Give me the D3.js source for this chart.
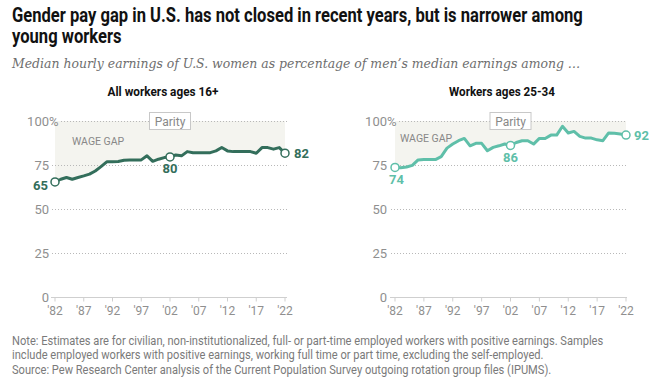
<!DOCTYPE html>
<html><head><meta charset="utf-8">
<script src="https://cdn.jsdelivr.net/npm/d3@7"></script>
<style>body{margin:0;background:#fff}</style>
</head><body><svg id="c" width="655" height="380"></svg>
<script>
// ---------- DATA ----------
const years = [1982,1983,1984,1985,1986,1987,1988,1989,1990,1991,
  1992,1993,1994,1995,1996,1997,1998,1999,2000,2001,
  2002,2003,2004,2005,2006,2007,2008,2009,2010,2011,
  2012,2013,2014,2015,2016,2017,2018,2019,2020,2021,2022];
const allWorkers = [65.4,66.9,67.9,66.9,67.9,68.8,69.8,71.6,74.1,76.8,
  76.8,77.0,77.7,77.9,77.9,77.9,80.2,77.1,78.3,79.2,
  79.6,80.7,80.2,82.6,82.0,82.0,82.0,82.0,83.0,84.9,
  83.0,82.6,82.6,82.6,82.6,81.7,84.9,84.9,84.0,84.9,81.7];
const youngWorkers = [73.6,73.5,73.9,74.8,77.9,78.1,78.1,78.1,79.8,84.6,
  86.9,88.8,90.1,85.9,87.3,87.3,83.1,85.0,85.9,86.9,
  86.1,87.8,88.8,88.8,86.9,90.1,90.1,92.0,92.0,97.0,
  93.2,94.1,91.3,90.3,90.3,89.3,88.8,93.2,93.0,92.6,92.0];
const panelTitles = ["All workers ages 16+", "Workers ages 25-34"];
const yTicks = [0, 25, 50, 75, 100];
const xTicks = [1982,1987,1992,1997,2002,2007,2012,2017,2022];
const xTickLabels = ["'82","'87","'92","'97","'02","'07","'12","'17","'22"];
const labelYears = [1982, 2002, 2022];
const title = ["Gender pay gap in U.S. has not closed in recent years, but is narrower among", "young workers"];
const subtitle = "Median hourly earnings of U.S. women as percentage of men\u2019s median earnings among \u2026";
const notes = [
  "Note: Estimates are for civilian, non-institutionalized, full- or part-time employed workers with positive earnings. Samples",
  "include employed workers with positive earnings, working full time or part time, excluding the self-employed.",
  "Source: Pew Research Center analysis of the Current Population Survey outgoing rotation group files (IPUMS)."
];

// ---------- LAYOUT ----------
const svg = d3.select("#c");
const SANS = "'Liberation Sans Narrow', 'Roboto', sans-serif";
const BODY = "Roboto, 'Liberation Sans', sans-serif";

function fitGroup(x, y, target, lines, lineH, attrs, anchor) {
  const g = svg.append("g");
  const ts = lines.map((t, i) => {
    const el = g.append("text").attr("x", 0).attr("y", y + i * lineH).text(t)
      .attr("text-anchor", anchor || "start");
    Object.entries(attrs).forEach(([k, v]) => el.attr(k, v));
    return el;
  });
  const w = ts[0].node().getComputedTextLength();
  const s = target / w;
  g.attr("transform", `translate(${x},0) scale(${s},1)`);
  return g;
}

fitGroup(12, 22, 571, title, 21,
  {"font-family": SANS, "font-weight": "bold", "font-size": "20px", fill: "#111"});
fitGroup(12, 68, 569, [subtitle], 0,
  {"font-family": "'DejaVu Serif', serif", "font-style": "italic", "font-size": "13.5px", fill: "#6e6e6e"});
fitGroup(12, 345, 592, notes, 14.5,
  {"font-family": SANS, "font-size": "12.5px", fill: "#7a7a7a"});

const panels = [
  {values: allWorkers, x0: 55, x1: 285, color: "#336e5b", title: panelTitles[0], tcx: 163, tw: 111,
   labelX: 49, gridX0: 52, gridX1: 287, axisX0: 51, gridX100: 61, wageX: 72, wageY: 145,
   lab: [{dx: -7, dy: 8, anchor: "end"}, {dx: 0, dy: 16, anchor: "middle"}, {dx: 9, dy: 4.5, anchor: "start"}]},
  {values: youngWorkers, x0: 395, x1: 626, color: "#5fbfa9", title: panelTitles[1], tcx: 502, tw: 106,
   labelX: 387, gridX0: 391, gridX1: 627, axisX0: 390, gridX100: 399, wageX: 400, wageY: 141.5,
   lab: [{dx: 1.5, dy: 17, anchor: "middle"}, {dx: 0, dy: 16.5, anchor: "middle"}, {dx: 8, dy: 4.5, anchor: "start"}]}
];

const y = d3.scaleLinear().domain([0, 100]).range([297, 121]);

panels.forEach(p => {
  const x = d3.scaleLinear().domain([years[0], years[years.length - 1]]).range([p.x0, p.x1]);
  const data = years.map((yr, i) => ({yr, v: p.values[i]}));
  const g = svg.append("g");

  // panel title
  fitGroup(p.tcx, 96, p.tw, [p.title], 0,
    {"font-family": SANS, "font-weight": "bold", "font-size": "13px", fill: "#111"}, "middle");

  // wage gap shading
  g.append("path").datum(data)
    .attr("d", d3.area().x(d => x(d.yr)).y0(y(100)).y1(d => y(d.v)))
    .attr("fill", "#f4f4ef");

  // gridlines
  yTicks.filter(t => t > 0).forEach(t => {
    g.append("line")
      .attr("x1", t === 100 ? p.gridX100 : p.gridX0).attr("x2", p.gridX1)
      .attr("y1", y(t) + 0.5).attr("y2", y(t) + 0.5)
      .attr("stroke", "#b8b8b8").attr("stroke-width", 1).attr("stroke-dasharray", "1,2");
  });

  // y labels
  yTicks.forEach(t => {
    g.append("text").attr("x", p.labelX).attr("y", y(t)).attr("dy", "0.36em")
      .attr("text-anchor", "end").attr("font-family", BODY).attr("font-size", "13px")
      .attr("fill", "#8f8f8f").text(t);
    if (t === 100) {
      g.append("text").attr("x", p.labelX).attr("y", y(t)).attr("dy", "0.36em")
        .attr("font-family", BODY).attr("font-size", "13px").attr("fill", "#8f8f8f").text("%");
    }
  });

  // x axis
  const ax = g.append("g").attr("transform", `translate(0,${y(0) + 0.5})`);
  ax.append("line").attr("x1", p.axisX0).attr("x2", p.gridX1).attr("stroke", "#cfcfcf");
  ax.selectAll(".tk").data(xTicks).enter().append("line")
    .attr("x1", d => x(d)).attr("x2", d => x(d)).attr("y1", 0).attr("y2", 4)
    .attr("stroke", "#cfcfcf");
  ax.selectAll(".tl").data(xTicks).enter().append("text")
    .attr("x", d => x(d)).attr("y", 17).attr("text-anchor", "middle")
    .attr("font-family", BODY).attr("font-size", "12px").attr("fill", "#8f8f8f")
    .text((d, i) => xTickLabels[i]);

  // parity box
  const px = x(2002);
  g.append("rect").attr("x", px - 20.5).attr("y", y(100) - 8.5).attr("width", 41).attr("height", 17)
    .attr("fill", "#fff").attr("stroke", "#c8c8c8");
  g.append("text").attr("x", px).attr("y", y(100) + 4.5).attr("text-anchor", "middle")
    .attr("font-family", BODY).attr("font-size", "12px").attr("fill", "#888").text("Parity");

  // wage gap label
  g.append("text").attr("x", p.wageX).attr("y", p.wageY)
    .attr("font-family", BODY).attr("font-size", "10.5px").attr("fill", "#888").text("WAGE GAP");

  // line
  g.append("path").datum(data)
    .attr("d", d3.line().x(d => x(d.yr)).y(d => y(d.v)))
    .attr("fill", "none").attr("stroke", p.color).attr("stroke-width", 3)
    .attr("stroke-linejoin", "round");

  // labelled points
  labelYears.forEach((ly, k) => {
    const d = data.find(e => e.yr === ly);
    g.append("circle").attr("cx", x(d.yr)).attr("cy", y(d.v)).attr("r", 4)
      .attr("fill", "#fff").attr("stroke", p.color).attr("stroke-width", 1.5);
    const o = p.lab[k];
    g.append("text").attr("x", x(d.yr) + o.dx).attr("y", y(d.v) + o.dy)
      .attr("text-anchor", o.anchor).attr("font-family", BODY).attr("font-weight", "bold")
      .attr("font-size", "13px").attr("fill", p.color).text(Math.round(d.v));
  });
});
</script></body></html>
